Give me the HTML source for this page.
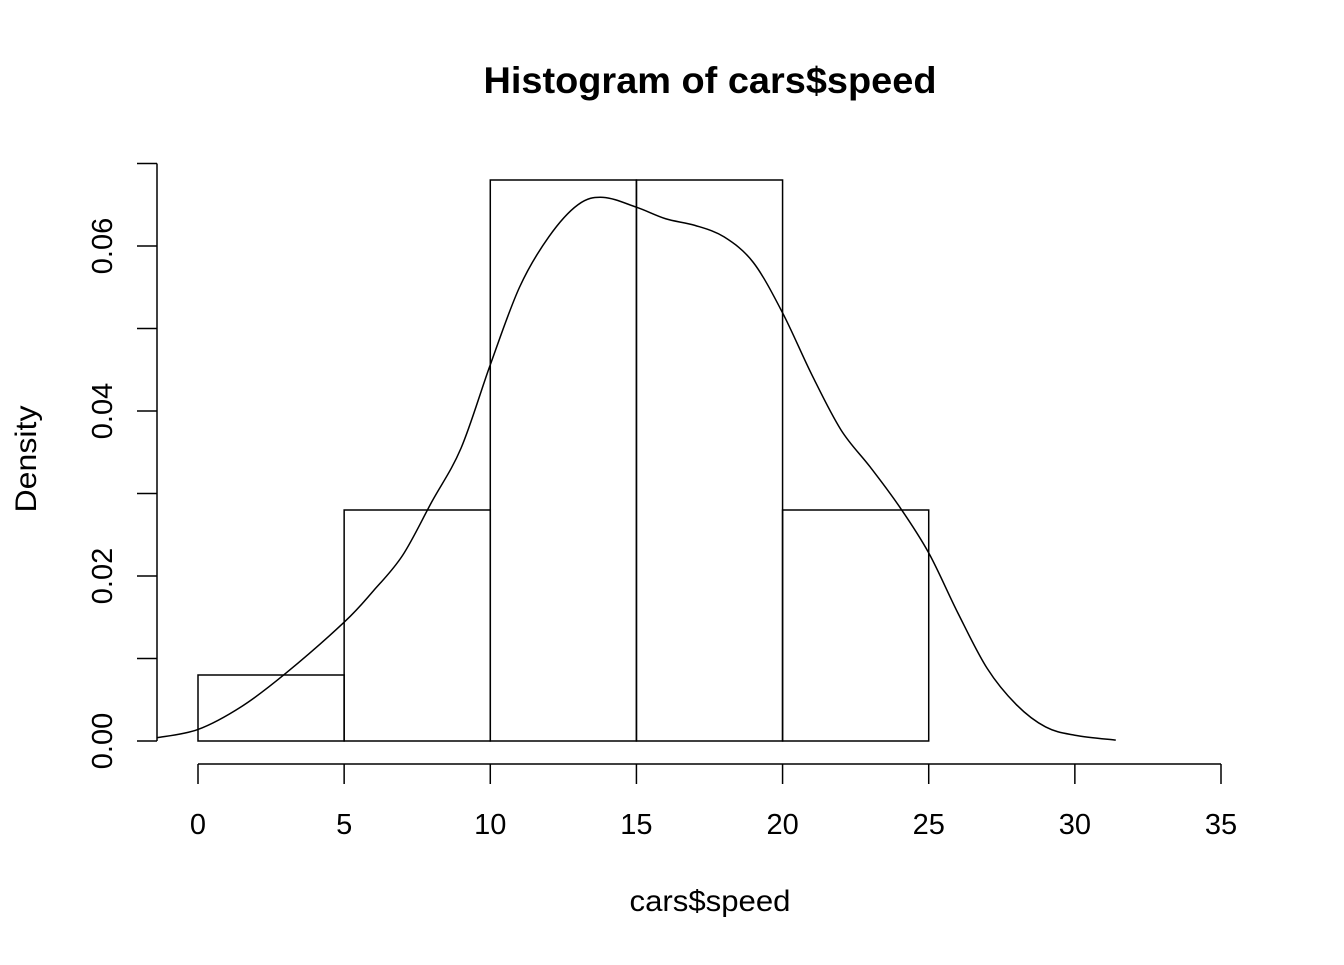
<!DOCTYPE html>
<html><head><meta charset="utf-8"><style>
html,body{margin:0;padding:0;background:#fff;}
svg text{font-family:"Liberation Sans",Arial,sans-serif;fill:#000;}
</style></head><body>
<svg id="chart" width="1344" height="960" viewBox="0 0 1344 960" xmlns="http://www.w3.org/2000/svg">
<text x="710" y="93" font-size="37" font-weight="bold" text-anchor="middle" textLength="453" lengthAdjust="spacingAndGlyphs">Histogram of cars$speed</text>
<text x="710" y="911" font-size="30" text-anchor="middle" textLength="161" lengthAdjust="spacingAndGlyphs">cars$speed</text>
<text transform="translate(36,459) rotate(-90)" font-size="30" text-anchor="middle" textLength="107" lengthAdjust="spacingAndGlyphs">Density</text>
<g id="bars"></g>
<g id="axes"></g>
<path id="curve" fill="none" stroke="#000" stroke-width="1.5"></path>
</svg>
<script>
const binEdges = [0, 5, 10, 15, 20, 25];
const binDensity = [0.008, 0.028, 0.068, 0.068, 0.028];
const xTicks = [0, 5, 10, 15, 20, 25, 30, 35];
const xTickLabels = ["0", "5", "10", "15", "20", "25", "30", "35"];
const yTicks = [0, 0.01, 0.02, 0.03, 0.04, 0.05, 0.06, 0.07];
const yTickLabels = ["0.00", "", "0.02", "", "0.04", "", "0.06", ""];
const densX = [-1.4, 0, 1.5, 3, 5, 6, 7, 8, 9, 10, 11, 12, 13, 13.86, 15, 16, 17, 18, 19, 20, 21, 22, 23, 24, 25, 26, 27, 28, 29, 30, 31.4];
const densY = [0.0004, 0.0014, 0.0042, 0.0082, 0.0144, 0.0182, 0.0225, 0.029, 0.0355, 0.0456, 0.055, 0.0611, 0.065, 0.0659, 0.0647, 0.0633, 0.0625, 0.0611, 0.058, 0.0519, 0.0444, 0.0377, 0.0332, 0.0284, 0.0228, 0.0155, 0.0088, 0.0044, 0.0017, 0.0007, 0.0001];

const NS = "http://www.w3.org/2000/svg";
const sx = v => 198 + v * (1221 - 198) / 35;
const sy = v => 741 - v * 8250;
function mk(tag, attrs, parent) {
  const e = document.createElementNS(NS, tag);
  for (const k in attrs) e.setAttribute(k, attrs[k]);
  parent.appendChild(e);
  return e;
}
const bars = document.getElementById("bars");
binDensity.forEach((d, i) => {
  const x0 = sx(binEdges[i]), x1 = sx(binEdges[i + 1]);
  const r = mk("rect", {x: x0, y: sy(d), width: x1 - x0, height: sy(0) - sy(d), fill: "none", stroke: "#000", "stroke-width": 1.5}, bars);
  
  
});
const axes = document.getElementById("axes");
const xl = mk("line", {x1: sx(xTicks[0]), x2: sx(xTicks[xTicks.length - 1]), y1: 764, y2: 764, stroke: "#000", "stroke-width": 1.5}, axes);


xTicks.forEach((t, i) => {
  const tk = mk("line", {x1: sx(t), x2: sx(t), y1: 764, y2: 784, stroke: "#000", "stroke-width": 1.5}, axes);
  
  
  const tx = mk("text", {x: sx(t), y: 834, "font-size": 29, "text-anchor": "middle"}, axes);
  tx.textContent = xTickLabels[i];
  
  
});
const yl = mk("line", {x1: 157, x2: 157, y1: sy(yTicks[0]), y2: sy(yTicks[yTicks.length - 1]), stroke: "#000", "stroke-width": 1.5}, axes);


yTicks.forEach((t, i) => {
  const tk = mk("line", {x1: 137, x2: 157, y1: sy(t), y2: sy(t), stroke: "#000", "stroke-width": 1.5}, axes);
  
  
  if (yTickLabels[i]) {
    const tx = mk("text", {transform: `translate(112,${sy(t)}) rotate(-90)`, "font-size": 29, "text-anchor": "middle"}, axes);
    tx.textContent = yTickLabels[i];
    
    
  }
});
const pts = densX.map((x, i) => [sx(x), sy(densY[i])]);
let d = "M" + pts[0][0] + "," + pts[0][1];
for (let i = 0; i < pts.length - 1; i++) {
  const p0 = pts[Math.max(0, i - 1)], p1 = pts[i], p2 = pts[i + 1], p3 = pts[Math.min(pts.length - 1, i + 2)];
  const c1x = p1[0] + (p2[0] - p0[0]) / 6, c1y = p1[1] + (p2[1] - p0[1]) / 6;
  const c2x = p2[0] - (p3[0] - p1[0]) / 6, c2y = p2[1] - (p3[1] - p1[1]) / 6;
  d += ` C${c1x},${c1y} ${c2x},${c2y} ${p2[0]},${p2[1]}`;
}
document.getElementById("curve").setAttribute("d", d);
</script>
</body></html>
